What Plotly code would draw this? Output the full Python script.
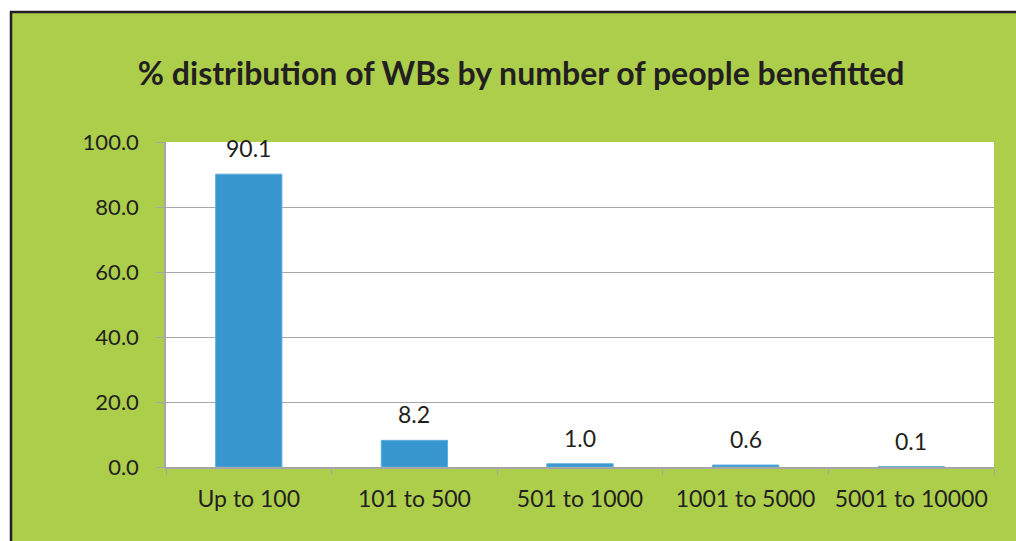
import plotly.graph_objects as go

# data
categories = ['Up to 100', '101 to 500', '501 to 1000', '1001 to 5000', '5001 to 10000']
share_pct = [90.1, 8.2, 1.0, 0.6, 0.1]
y_ticks = [0, 20, 40, 60, 80, 100]

green = '#ADCE4B'
bar_blue = '#3896CE'
ink = '#231F20'
grid = '#A6A6A6'
font = 'Lato'

fig = go.Figure()
fig.add_trace(go.Bar(
    x=categories,
    y=share_pct,
    width=0.4,
    marker=dict(color=bar_blue, line=dict(color='#5BAEDD', width=1)),
))

# value labels above the bars
for cat, v in zip(categories, share_pct):
    fig.add_annotation(x=cat, y=v, text=f'{v:.1f}', showarrow=False,
                       yanchor='middle', yshift=26,
                       font=dict(family=font, size=23, color=ink))

# green panel with dark border on top and left, white plot area on top of it
fig.add_shape(type='rect', xref='paper', yref='paper',
              x0=-0.1872, x1=1.1, y0=-0.4, y1=1.4,
              fillcolor=green, line=dict(color=ink, width=2.5), layer='below')
fig.add_shape(type='rect', xref='x domain', yref='y domain',
              x0=0, x1=1, y0=0, y1=1,
              fillcolor='white', line=dict(width=0), layer='below')

fig.update_layout(
    width=1016, height=541,
    paper_bgcolor='white',
    plot_bgcolor='white',
    margin=dict(l=166, r=22, t=142, b=74),
    showlegend=False,
    title=dict(text='<b>% distribution of WBs by number of people benefitted</b>',
               x=0.513, xanchor='center', y=0.863, yanchor='middle',
               font=dict(family=font, size=32, color=ink)),
)

fig.update_yaxes(
    range=[0, 100], tickvals=y_ticks, tickformat='.1f',
    showgrid=True, gridcolor=grid, gridwidth=1.3,
    showline=True, linecolor=grid, linewidth=1.5,
    ticks='outside', ticklen=8, tickcolor=grid,
    tickfont=dict(family=font, size=22, color=ink),
    ticklabelstandoff=13, zeroline=False,
)
fig.update_xaxes(
    showline=True, linecolor=grid, linewidth=2,
    ticks='outside', tickson='boundaries', ticklen=6, tickcolor=grid,
    tickfont=dict(family=font, size=23, color=ink),
    ticklabelstandoff=10,
)

# drop the default body margin so the figure fills the window without scrollbars
fig.write_html('out.html', config={'displayModeBar': False},
               post_script="document.body.style.margin='0';document.body.style.overflow='hidden';")
